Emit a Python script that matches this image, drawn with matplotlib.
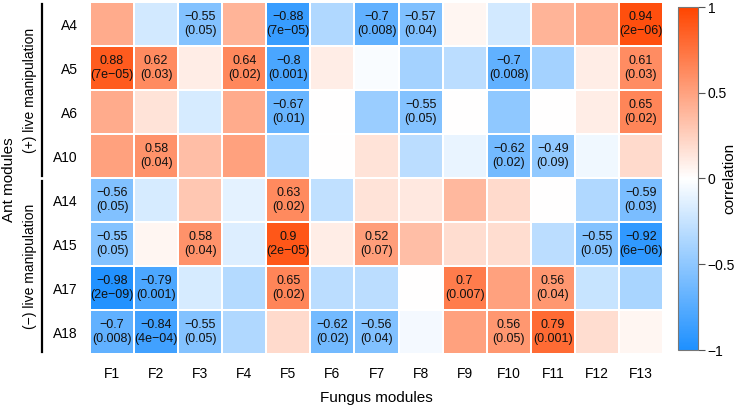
import numpy as np
import matplotlib
matplotlib.use("Agg")
from matplotlib import pyplot as plt
from matplotlib.colors import LinearSegmentedColormap

plt.rcParams["font.family"] = ["Liberation Sans", "DejaVu Sans"]

ant_modules = ["A4", "A5", "A6", "A10", "A14", "A15", "A17", "A18"]
fungus_modules = ["F1", "F2", "F3", "F4", "F5", "F6", "F7", "F8", "F9", "F10", "F11", "F12", "F13"]

# correlation values (rows = ant modules, cols = fungus modules)
corr = np.array([
    [0.45, -0.2, -0.55, 0.4, -0.88, -0.35, -0.7, -0.57, 0.05, -0.2, 0.4, 0.45, 0.94],
    [0.88, 0.62, 0.1, 0.64, -0.8, 0.1, -0.03, -0.4, -0.3, -0.7, -0.4, 0.1, 0.61],
    [0.45, 0.15, -0.18, 0.45, -0.67, 0.0, -0.45, -0.55, 0.0, -0.5, 0.0, 0.1, 0.65],
    [0.5, 0.58, 0.35, 0.5, -0.35, 0.0, 0.15, -0.3, -0.1, -0.62, -0.49, -0.07, 0.2],
    [-0.56, -0.18, 0.3, -0.12, 0.63, -0.28, 0.15, 0.12, 0.38, 0.2, 0.0, -0.35, -0.59],
    [-0.55, 0.05, 0.58, -0.15, 0.9, 0.1, 0.52, 0.35, 0.18, 0.18, -0.3, -0.55, -0.92],
    [-0.98, -0.79, -0.18, -0.33, 0.65, -0.3, -0.3, 0.0, 0.7, 0.5, 0.56, -0.25, -0.38],
    [-0.7, -0.84, -0.55, -0.35, 0.2, -0.62, -0.56, -0.05, 0.5, 0.56, 0.79, 0.18, 0.05],
])

# p-values shown for significant cells ("" = not annotated)
pvals = [
    ["", "", "0.05", "", "7e-05", "", "0.008", "0.04", "", "", "", "", "2e-06"],
    ["7e-05", "0.03", "", "0.02", "0.001", "", "", "", "", "0.008", "", "", "0.03"],
    ["", "", "", "", "0.01", "", "", "0.05", "", "", "", "", "0.02"],
    ["", "0.04", "", "", "", "", "", "", "", "0.02", "0.09", "", ""],
    ["0.05", "", "", "", "0.02", "", "", "", "", "", "", "", "0.03"],
    ["0.05", "", "0.04", "", "2e-05", "", "0.07", "", "", "", "", "0.05", "6e-06"],
    ["2e-09", "0.001", "", "", "0.02", "", "", "", "0.007", "", "0.04", "", ""],
    ["0.008", "4e-04", "0.05", "", "", "0.02", "0.04", "", "", "0.05", "0.001", "", ""],
]

cmap = LinearSegmentedColormap.from_list("corr", ["#1E90FF", "#FFFFFF", "#FF4500"])

W, H = 742, 411
fig = plt.figure(figsize=(W / 100, H / 100), dpi=100)

ax = fig.add_axes([90 / W, 1 - 354 / H, 573 / W, 352 / H])
mesh = ax.pcolormesh(corr, cmap=cmap, vmin=-1, vmax=1, edgecolors="white", linewidth=0.2)
ax.set_xlim(0, len(fungus_modules))
ax.set_ylim(len(ant_modules), 0)
for s in ax.spines.values():
    s.set_visible(False)
ax.set_xticks(np.arange(len(fungus_modules)) + 0.5)
ax.set_xticklabels(fungus_modules, fontsize=10)
ax.set_yticks(np.arange(len(ant_modules)) + 0.5)
ax.set_yticklabels(ant_modules, fontsize=10)
ax.tick_params(length=0, pad=9)

for i in range(len(ant_modules)):
    for j in range(len(fungus_modules)):
        if pvals[i][j]:
            v = f"{corr[i, j]:g}".replace("-", "\u2212")
            p = pvals[i][j].replace("-", "\u2212")
            ax.text(j + 0.5, i + 0.5, f"{v}\n({p})", ha="center", va="center",
                    fontsize=9, linespacing=1.2, color="#111111")

# axis titles, group brackets and labels
fig.text(376 / W, 1 - 398 / H, "Fungus modules", ha="center", va="center", fontsize=11)
fig.add_artist(plt.Line2D([42 / W, 42 / W], [1 - 4 / H, 1 - 176 / H], color="black", lw=1.6))
fig.add_artist(plt.Line2D([42 / W, 42 / W], [1 - 181 / H, 1 - 352 / H], color="black", lw=1.6))
fig.text(30 / W, 1 - 90 / H, "(+) live manipulation", rotation=90, ha="center", va="center", fontsize=10)
fig.text(30 / W, 1 - 266 / H, "(\u2212) live manipulation", rotation=90, ha="center", va="center", fontsize=10)
fig.text(9 / W, 1 - 180 / H, "Ant modules", rotation=90, ha="center", va="center", fontsize=11)

# colorbar
cax = fig.add_axes([678 / W, 1 - 350 / H, 20 / W, 343 / H])
cb = fig.colorbar(mesh, cax=cax)
cb.set_ticks([-1, -0.5, 0, 0.5, 1])
cb.set_ticklabels(["\u22121", "\u22120.5", "0", "0.5", "1"])
cb.outline.set_edgecolor("#777777")
cb.outline.set_linewidth(0.8)
cax.tick_params(labelsize=10, length=5, width=0.8, color="#555555", pad=2)
fig.text(729 / W, 1 - 178 / H, "correlation", rotation=90, ha="center", va="center", fontsize=11)

fig.savefig("out.png", dpi=100)
